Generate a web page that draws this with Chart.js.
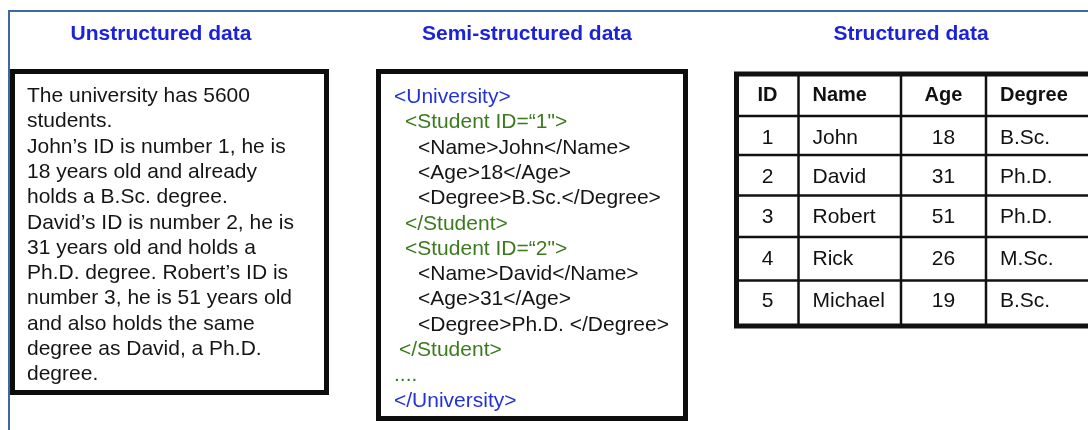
<!DOCTYPE html>
<html>
<head>
<meta charset="utf-8">
<script src="https://cdn.jsdelivr.net/npm/chart.js@4/dist/chart.umd.min.js"></script>
<style>
html,body{margin:0;padding:0;background:#fff;}
#c{display:block;}
</style>
</head>
<body>
<canvas id="c" width="1088" height="430"></canvas>
<script>
// ---- data ----
const panelTitles = ['Unstructured data', 'Semi-structured data', 'Structured data'];
const unstructuredLines = [
  'The university has 5600',
  'students.',
  'John\u2019s ID is number 1, he is',
  '18 years old and already',
  'holds a B.Sc. degree.',
  'David\u2019s ID is number 2, he is',
  '31 years old and holds a',
  'Ph.D. degree. Robert\u2019s ID is',
  'number 3, he is 51 years old',
  'and also holds the same',
  'degree as David, a Ph.D.',
  'degree.'
];
const xmlLines = [
  '<University>',
  '<Student ID=\u201C1">',
  '<Name>John</Name>',
  '<Age>18</Age>',
  '<Degree>B.Sc.</Degree>',
  '</Student>',
  '<Student ID=\u201C2">',
  '<Name>David</Name>',
  '<Age>31</Age>',
  '<Degree>Ph.D. </Degree>',
  '</Student>',
  '....',
  '</University>'
];
const headers = ['ID', 'Name', 'Age', 'Degree'];
const ids = [1, 2, 3, 4, 5];
const names = ['John', 'David', 'Robert', 'Rick', 'Michael'];
const ages = [18, 31, 51, 26, 19];
const degrees = ['B.Sc.', 'Ph.D.', 'Ph.D.', 'M.Sc.', 'B.Sc.'];

// ---- layout (positions only) ----
const titleCenters = [161, 527, 911];
const titleBaseline = 40;
const lineStep = 25.3;
const firstBaseline = 102;
const xmlIndents = [394, 405, 418, 418, 418, 405, 405, 418, 418, 418, 399, 394, 394];
const colEdges = [736.5, 798.5, 901, 986, 1100];
const rowEdges = [74, 116, 155, 195.5, 237, 280.5, 326];
const rowBaselines = [101, 144, 183, 223, 265, 307];
const colAlign = ['center', 'left', 'center', 'left'];
const leftPad = 14;

const FONT = '"Liberation Sans", Arial, Helvetica, sans-serif';

function xmlColor(t) {
  if (t.indexOf('University') >= 0) return '#2233d6';
  if (t.indexOf('Student') >= 0 || t.indexOf('....') === 0) return '#3c7a1e';
  return '#151515';
}

const diagram = {
  id: 'diagram',
  beforeDraw(chart) {
    const ctx = chart.ctx;
    ctx.save();
    ctx.fillStyle = '#ffffff';
    ctx.fillRect(0, 0, chart.width, chart.height);
    ctx.restore();
  },
  afterDraw(chart) {
    const ctx = chart.ctx;
    const sx = chart.scales.x, sy = chart.scales.y;
    const X = v => sx.getPixelForValue(v);
    const Y = v => sy.getPixelForValue(v);
    ctx.save();

    // blue frame
    ctx.strokeStyle = '#3f67a3';
    ctx.lineWidth = 2;
    ctx.beginPath();
    ctx.moveTo(X(9), Y(430));
    ctx.lineTo(X(9), Y(11));
    ctx.lineTo(X(1088), Y(11));
    ctx.stroke();

    // titles
    ctx.fillStyle = '#1b22d8';
    ctx.font = 'bold 21px ' + FONT;
    ctx.textAlign = 'center';
    ctx.textBaseline = 'alphabetic';
    panelTitles.forEach((t, i) => ctx.fillText(t, X(titleCenters[i]), Y(titleBaseline)));

    // boxes
    ctx.strokeStyle = '#0d0d0d';
    ctx.lineWidth = 5;
    ctx.strokeRect(X(12.5), Y(71.5), X(326.5) - X(12.5), Y(392.5) - Y(71.5));
    ctx.strokeRect(X(378.5), Y(71.5), X(685.5) - X(378.5), Y(418.5) - Y(71.5));

    // unstructured text
    ctx.font = '21px ' + FONT;
    ctx.textAlign = 'left';
    ctx.fillStyle = '#151515';
    unstructuredLines.forEach((t, i) => ctx.fillText(t, X(27), Y(firstBaseline + i * lineStep)));

    // xml text
    xmlLines.forEach((t, i) => {
      ctx.fillStyle = xmlColor(t);
      ctx.fillText(t, X(xmlIndents[i]), Y(firstBaseline + 1 + i * lineStep));
    });

    // table grid
    ctx.strokeStyle = '#111111';
    ctx.lineWidth = 2.5;
    ctx.beginPath();
    for (let r = 1; r < rowEdges.length - 1; r++) {
      ctx.moveTo(X(colEdges[0]), Y(rowEdges[r]));
      ctx.lineTo(X(colEdges[colEdges.length - 1]), Y(rowEdges[r]));
    }
    for (let c = 1; c < colEdges.length - 1; c++) {
      ctx.moveTo(X(colEdges[c]), Y(rowEdges[0]));
      ctx.lineTo(X(colEdges[c]), Y(rowEdges[rowEdges.length - 1]));
    }
    ctx.stroke();
    ctx.lineWidth = 5;
    ctx.strokeRect(X(colEdges[0]), Y(rowEdges[0]),
      X(colEdges[colEdges.length - 1]) - X(colEdges[0]),
      Y(rowEdges[rowEdges.length - 1]) - Y(rowEdges[0]));

    // table text
    const cellText = (t, c, baseline) => {
      const left = colEdges[c], right = colEdges[c + 1];
      if (colAlign[c] === 'center') {
        ctx.textAlign = 'center';
        ctx.fillText(String(t), X((left + right) / 2), Y(baseline));
      } else {
        ctx.textAlign = 'left';
        ctx.fillText(String(t), X(left + leftPad), Y(baseline));
      }
    };
    ctx.fillStyle = '#111111';
    ctx.font = 'bold 20px ' + FONT;
    headers.forEach((h, c) => cellText(h, c, rowBaselines[0]));
    ctx.font = '21px ' + FONT;
    ids.forEach((id, r) => {
      const b = rowBaselines[r + 1];
      cellText(id, 0, b);
      cellText(names[r], 1, b);
      cellText(ages[r], 2, b);
      cellText(degrees[r], 3, b);
    });

    ctx.restore();
  }
};

new Chart(document.getElementById('c'), {
  type: 'scatter',
  data: { datasets: [{ data: [], showLine: false }] },
  options: {
    responsive: false,
    devicePixelRatio: 1,
    animation: false,
    events: [],
    layout: { padding: 0 },
    plugins: { legend: { display: false }, tooltip: { enabled: false }, title: { display: false } },
    scales: {
      x: { type: 'linear', min: 0, max: 1088, display: false },
      y: { type: 'linear', min: 0, max: 430, reverse: true, display: false }
    }
  },
  plugins: [diagram]
});
</script>
</body>
</html>
